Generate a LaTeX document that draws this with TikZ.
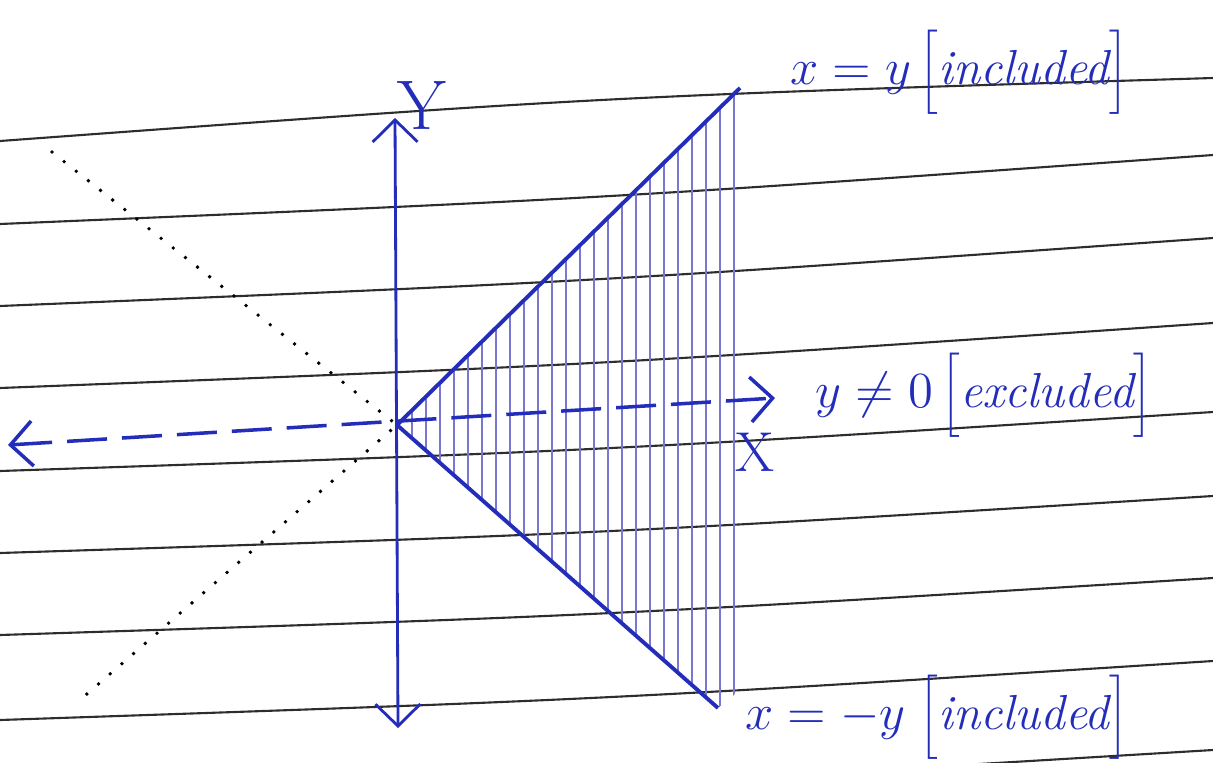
\documentclass[tikz,border=0pt]{standalone}
\usepackage{tikz}
\usetikzlibrary{arrows.meta}
\definecolor{ink}{RGB}{35,45,185}
\definecolor{hatchink}{RGB}{120,120,210}
\definecolor{rulegray}{RGB}{45,45,45}
\tikzstyle{ruling} = [
    rulegray,
    line width=0.6pt
]
\tikzstyle{axis} = [
    ink,
    line width=0.8pt,
    <->,
    >={Straight Barb[length=2.2mm,width=4.5mm]}
]
\tikzstyle{dashaxis} = [
    axis,
    line width=1pt,
    dash pattern=on 4mm off 1.5mm
]
\tikzstyle{boundary} = [ink, line width=1.1pt]
\tikzstyle{hatchline} = [hatchink, line width=0.4pt]
\tikzstyle{guide} = [
    black,
    line width=1.1pt,
    line cap=round,
    dash pattern=on 0pt off 4.4pt
]
\tikzstyle{handlabel} = [
    ink,
    inner sep=0pt,
    font=\fontsize{14}{16}\selectfont\itshape
]

\begin{document}
\begin{tikzpicture}

\useasboundingbox (0,0) rectangle (12.13,-7.62);
\fill[white] (0,0) rectangle (12.13,-7.62);

% notebook rulings
\begin{scope}
\clip (0,0) rectangle (12.13,-7.62);
\foreach \yl/\yr/\bw in {1.41/0.78/-0.13, 2.24/1.55/0.09, 3.06/2.38/0.09,
    3.88/3.23/0.09, 4.71/4.12/0.09, 5.53/4.96/0.09, 6.35/5.78/0.09,
    7.20/6.61/0.09, 8.05/7.50/0.09}
  \draw [ruling] (0,-\yl) .. controls (6.06,{-(\yl+\yr)/2-\bw}) .. (12.13,-\yr);
\end{scope}

\coordinate (O) at (3.97,-4.25);
\coordinate (ytop) at (3.95,-1.18);
\coordinate (ybot) at (3.98,-7.28);
\coordinate (xleft) at (0.08,-4.45);
\coordinate (xright) at (7.75,-3.98);
\coordinate (ul) at (7.40,-0.88);
\coordinate (lr) at (7.18,-7.08);
\coordinate (rc) at (7.40,-6.90);
\coordinate (dul) at (0.52,-1.52);
\coordinate (dll) at (0.80,-7.00);

% shaded region
\begin{scope}
\clip (O) -- (ul) -- (rc) -- (lr) -- cycle;
\foreach \hx in {4.12,4.26,...,7.40}
  \draw [hatchline] (\hx,-0.8) -- (\hx,-7.2);
\end{scope}

\draw [guide] (dul) -- (O) -- (dll);

\draw [axis] (ybot) -- (ytop);
\draw [dashaxis] (xleft) -- (xright);

\draw [boundary] (O) -- (ul);
\draw [boundary] (O) -- (lr);

\node (ylabel) [ink, font=\fontsize{20}{24}\selectfont] at (4.22,-1.05) {Y};
\node (xlabel) [ink, font=\fontsize{16}{18}\selectfont] at (7.55,-4.52) {X};

\node (xyeq) [handlabel, anchor=west] at (7.90,-0.72)
{$x = y\,\bigg[$included$\bigg]$};

\node (yne) [handlabel, anchor=west] at (8.15,-3.95)
{$y \neq 0\,\bigg[$excluded$\bigg]$};

\node (xmyeq) [handlabel, anchor=west] at (7.45,-7.17)
{$x = -y\;\bigg[$included$\bigg]$};

\end{tikzpicture}
\end{document}
